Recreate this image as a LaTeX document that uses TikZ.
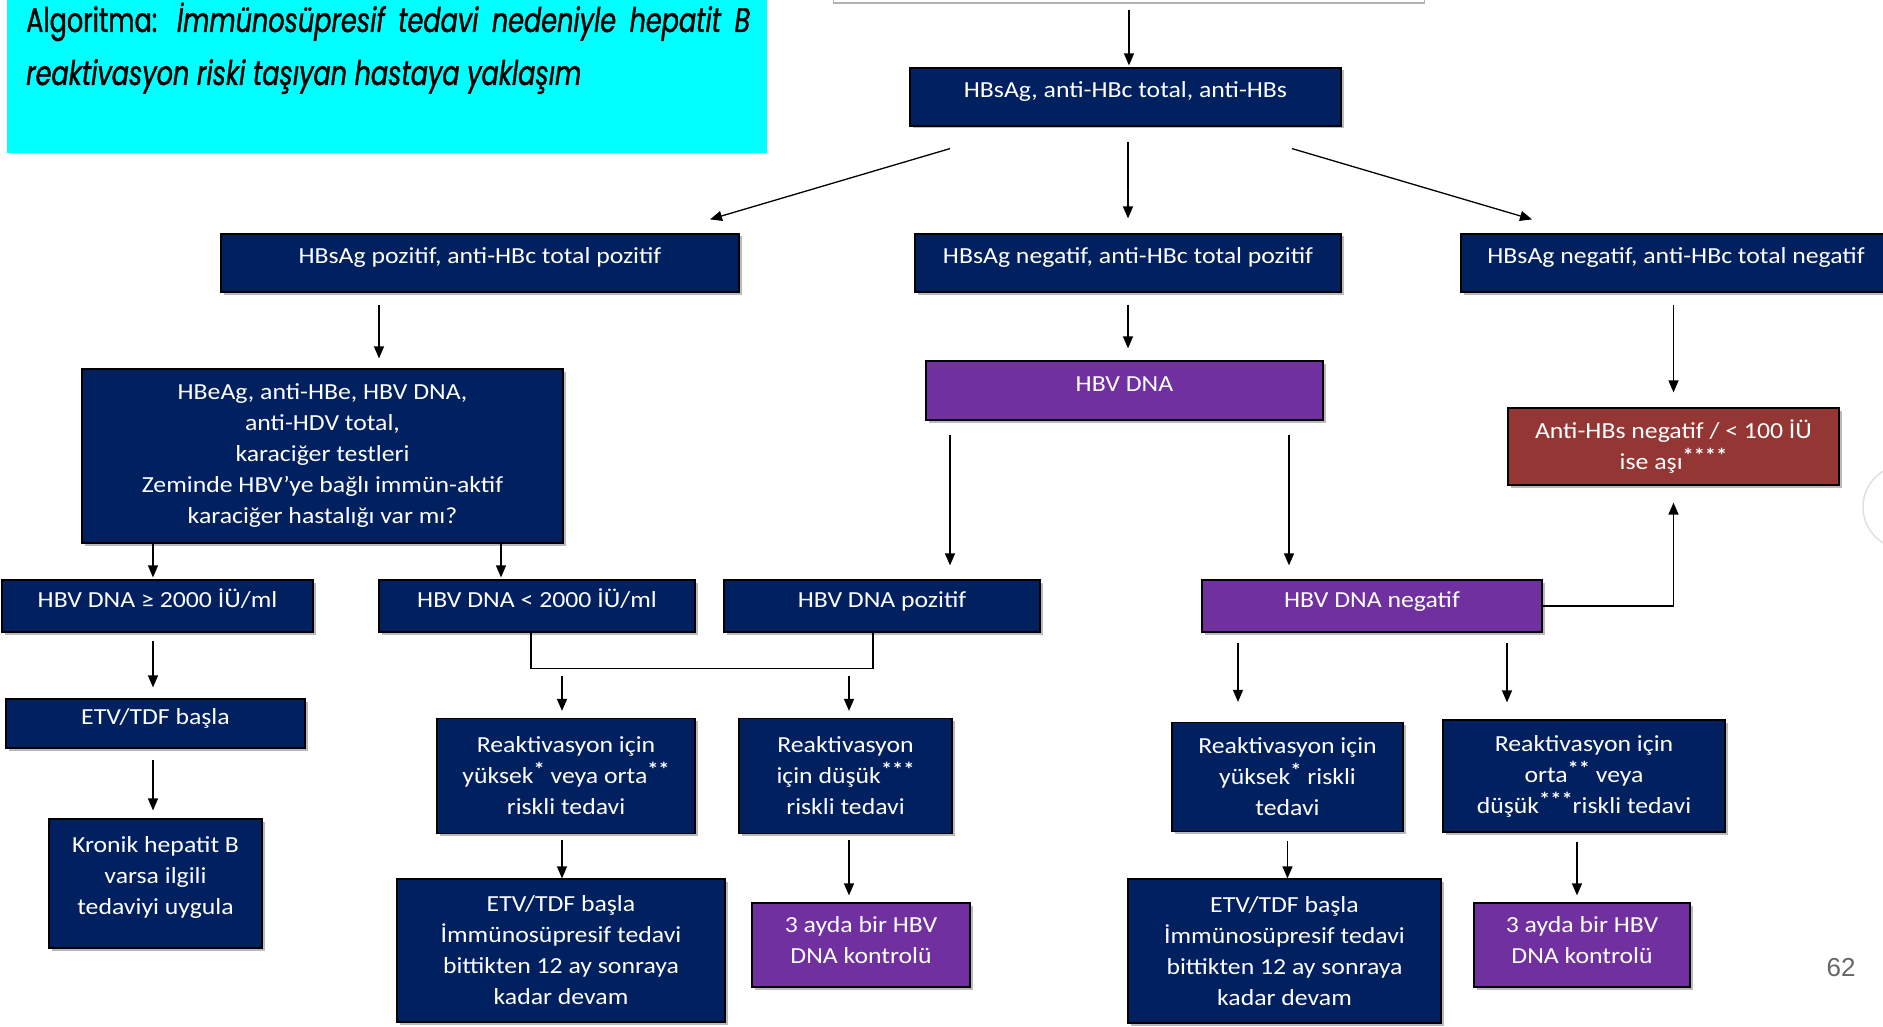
\documentclass[tikz,border=0pt]{standalone}
\usepackage{fontspec}
\usetikzlibrary{arrows.meta,shadows}
\newfontfamily\boxfont{Carlito}[FakeStretch=1.12]
\newfontfamily\titlefont{Poppins}[FakeStretch=0.75, FakeBold=1.2]
\newfontfamily\pagefont{Liberation Sans}
\definecolor{navy}{HTML}{002060}
\definecolor{violet}{HTML}{7030A0}
\definecolor{brick}{HTML}{943634}
\definecolor{aqua}{HTML}{00FFFF}
\newcommand{\stars}[1]{\raisebox{7pt}{\fontsize{20}{20}\selectfont\bfseries #1}}

\begin{document}
\begin{tikzpicture}[x=1pt,y=-1pt,
    box/.style={draw=black, line width=1.2pt, fill=navy, text=white, align=center, inner sep=0pt,
        font=\boxfont\fontsize{23}{31}\selectfont,
        drop shadow={shadow xshift=2.5pt, shadow yshift=-2.5pt, fill=black!45, opacity=0.6}},
    oneline/.style={text height=17pt, text depth=15pt},
    purplebox/.style={box, fill=violet},
    redbox/.style={box, fill=brick},
    arr/.style={-{Triangle[length=12pt,width=10pt]}, line width=1.3pt}]
    \useasboundingbox (0,0) rectangle (1883,1027);

    % title
    \node[fill=aqua, minimum width=760pt, minimum height=153pt, anchor=north west, inner sep=0pt] (ttl) at (7,0) {};
    \node[anchor=base west, inner sep=0pt] (ttlone) at (26,32) {\titlefont\fontsize{34}{40}\selectfont\makebox[724pt][s]{Algoritma: \textit{İmmünosüpresif tedavi nedeniyle hepatit B}}};
    \node[anchor=base west, inner sep=0pt] (ttltwo) at (26,85) {\titlefont\fontsize{34}{40}\selectfont\itshape reaktivasyon riski taşıyan hastaya yaklaşım};

    \node[draw=black!30, fill=white, line width=1.5pt, minimum width=591pt, minimum height=46pt] (prev) at (1129,-20) {};
    \draw[black!12, line width=1.5pt] (1905,507) circle (42);

    \node[box, oneline, minimum width=431pt, minimum height=58pt] (hbs) at (1125.5,97) {HBsAg, anti-HBc total, anti-HBs};

    \node[box, oneline, minimum width=518pt, minimum height=58pt] (pos) at (480,263) {HBsAg pozitif, anti-HBc total pozitif};
    \node[box, oneline, minimum width=426pt, minimum height=58pt] (negpos) at (1128,263) {HBsAg negatif, anti-HBc total pozitif};
    \node[box, oneline, minimum width=430pt, minimum height=58pt] (negneg) at (1676,263) {HBsAg negatif, anti-HBc total negatif};

    \node[box, minimum width=481pt, minimum height=174pt] (hbeag) at (322.5,456) {HBeAg, anti-HBe, HBV DNA,\\ anti-HDV total,\\ karaciğer testleri\\ Zeminde HBV’ye bağlı immün-aktif\\ karaciğer hastalığı var mı?};
    \node[purplebox, oneline, minimum width=397pt, minimum height=59pt] (hbvdna) at (1124.5,390.5) {HBV DNA};
    \node[redbox, minimum width=331pt, minimum height=77pt] (antihbs) at (1673.5,446.5) {Anti-HBs negatif / < 100 İÜ\\ ise aşı\stars{****}};

    \node[box, oneline, minimum width=311pt, minimum height=52pt] (ge2000) at (157.5,606) {HBV DNA ≥ 2000 İÜ/ml};
    \node[box, oneline, minimum width=316pt, minimum height=52pt] (lt2000) at (537,606) {HBV DNA < 2000 İÜ/ml};
    \node[box, oneline, minimum width=316pt, minimum height=52pt] (dnapoz) at (882,606) {HBV DNA pozitif};
    \node[purplebox, oneline, minimum width=340pt, minimum height=52pt] (dnaneg) at (1372,606) {HBV DNA negatif};

    \node[box, oneline, minimum width=299pt, minimum height=49pt] (etvleft) at (155.5,723.5) {ETV/TDF başla};
    \node[box, minimum width=258pt, minimum height=115pt] (highmid) at (566,776) {Reaktivasyon için\\ yüksek\stars{*} veya orta\stars{**}\\ riskli tedavi};
    \node[box, minimum width=213pt, minimum height=115pt] (lowrisk) at (845.5,776) {Reaktivasyon\\ için düşük\stars{***}\\ riskli tedavi};
    \node[box, minimum width=231pt, minimum height=109pt] (highrisk) at (1287.5,777) {Reaktivasyon için\\ yüksek\stars{*} riskli\\ tedavi};
    \node[box, minimum width=282pt, minimum height=112pt] (midlow) at (1584,776) {Reaktivasyon için\\ orta\stars{**} veya\\ düşük\stars{***}riskli tedavi};

    \node[box, minimum width=213pt, minimum height=129pt] (kronik) at (155.5,883.5) {Kronik hepatit B\\ varsa ilgili\\ tedaviyi uygula\\[-16pt]\mbox{}};
    \node[box, minimum width=328pt, minimum height=143pt] (etvmid) at (561,950.5) {ETV/TDF başla\\ İmmünosüpresif tedavi\\ bittikten 12 ay sonraya\\ kadar devam};
    \node[purplebox, minimum width=218pt, minimum height=84pt] (ctrlmid) at (861,945) {3 ayda bir HBV\\ DNA kontrolü\\[-22pt]\mbox{}};
    \node[box, minimum width=313pt, minimum height=144pt] (etvright) at (1284.5,951) {ETV/TDF başla\\ İmmünosüpresif tedavi\\ bittikten 12 ay sonraya\\ kadar devam};
    \node[purplebox, minimum width=216pt, minimum height=84pt] (ctrlright) at (1582,945) {3 ayda bir HBV\\ DNA kontrolü\\[-22pt]\mbox{}};

    \node[font=\pagefont\fontsize{26}{30}\selectfont, text=black!60] (pg) at (1841,968) {62};

    \draw[arr, shorten <=6pt, shorten >=2pt] (prev.south) -- (prev.south |- hbs.north);
    \draw[arr] ([shift={(-175.5,22)}]hbs.south) -- ([shift={(230,-14)}]pos.north);
    \draw[arr, shorten <=15pt, shorten >=15pt] (hbs.south -| negpos.north) -- (negpos.north);
    \draw[arr] ([shift={(166.5,22)}]hbs.south) -- ([shift={(-144,-14)}]negneg.north);

    \draw[arr] ([shift={(-101,12)}]pos.south) -- ([shift={(56.5,-10)}]hbeag.north);
    \draw[arr, shorten <=12pt, shorten >=12pt] (negpos.south) -- (negpos.south |- hbvdna.north);
    \draw[arr, shorten <=12pt, shorten >=15pt] (antihbs.north |- negneg.south) -- (antihbs.north);

    \draw[arr, shorten >=2pt] ([xshift=-4.5pt]ge2000.north |- hbeag.south) -- ([xshift=-4.5pt]ge2000.north);
    \draw[arr] ([shift={(178.5,0)}]hbeag.south) -- ([shift={(-36,-2)}]lt2000.north);
    \draw[arr] ([shift={(-174.5,14)}]hbvdna.south) -- ([shift={(68,-14)}]dnapoz.north);
    \draw[arr] ([shift={(164.5,14)}]hbvdna.south) -- ([shift={(-83,-14)}]dnaneg.north);
    \draw[arr, shorten >=17pt] (dnaneg.east) -| (antihbs.south);

    \draw[arr, shorten <=8pt, shorten >=11pt] ([xshift=-4.5pt]ge2000.south) -- ([xshift=-4.5pt]ge2000.south |- etvleft.north);
    \draw[line width=1.3pt] ([xshift=-6pt]lt2000.south) -- ++(0,36) coordinate (jn) -| ([xshift=-9pt]dnapoz.south);
    \draw[arr, shorten <=7pt, shorten >=7pt] ([xshift=-4pt]highmid.north |- jn) -- ([xshift=-4pt]highmid.north);
    \draw[arr, shorten <=7pt, shorten >=7pt] ([xshift=3.5pt]lowrisk.north |- jn) -- ([xshift=3.5pt]lowrisk.north);

    \draw[arr, shorten <=11pt, shorten >=8pt] ([xshift=-2.5pt]etvleft.south) -- ([xshift=-2.5pt]kronik.north);
    \draw[arr, shorten <=6pt] ([xshift=-4pt]highmid.south) -- ([xshift=-4pt]highmid.south |- etvmid.north);
    \draw[arr, shorten <=6pt, shorten >=7pt] ([xshift=3.5pt]lowrisk.south) -- ([xshift=3.5pt]lowrisk.south |- ctrlmid.north);
    \draw[arr] ([shift={(-134,10)}]dnaneg.south) -- ([shift={(-49.5,-20)}]highrisk.north);
    \draw[arr] ([shift={(135,10)}]dnaneg.south) -- ([shift={(-77,-17)}]midlow.north);
    \draw[arr, shorten <=9pt] (highrisk.south) -- (highrisk.south |- etvright.north);
    \draw[arr, shorten <=9pt, shorten >=7pt] ([xshift=-7pt]midlow.south) -- ([xshift=-7pt]midlow.south |- ctrlright.north);

\end{tikzpicture}
\end{document}
